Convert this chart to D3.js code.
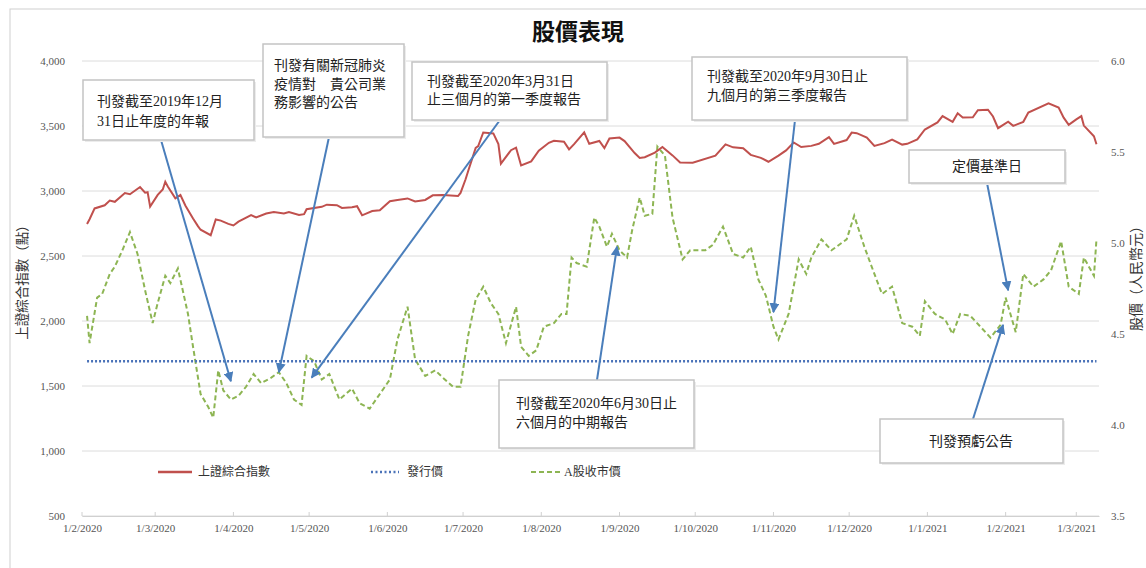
<!DOCTYPE html>
<html><head><meta charset="utf-8">
<script src="https://cdn.jsdelivr.net/npm/d3@7"></script>
<style>body{margin:0;background:#fff}</style>
</head><body>
<svg id="c" width="1146" height="568"></svg>
<script>
// ---- data ----
const shDates = ["2020-02-03","2020-02-04","2020-02-06","2020-02-10","2020-02-12","2020-02-14","2020-02-18","2020-02-20","2020-02-24","2020-02-26","2020-02-27","2020-02-28","2020-03-02","2020-03-04","2020-03-05","2020-03-06","2020-03-09","2020-03-11","2020-03-13","2020-03-16","2020-03-18","2020-03-19","2020-03-23","2020-03-25","2020-03-27","2020-03-30","2020-04-01","2020-04-03","2020-04-08","2020-04-10","2020-04-14","2020-04-17","2020-04-21","2020-04-23","2020-04-27","2020-04-29","2020-04-30","2020-05-06","2020-05-08","2020-05-12","2020-05-14","2020-05-18","2020-05-20","2020-05-22","2020-05-26","2020-05-29","2020-06-02","2020-06-05","2020-06-09","2020-06-12","2020-06-16","2020-06-19","2020-06-23","2020-06-29","2020-06-30","2020-07-02","2020-07-03","2020-07-06","2020-07-07","2020-07-09","2020-07-13","2020-07-15","2020-07-16","2020-07-20","2020-07-22","2020-07-24","2020-07-28","2020-07-31","2020-08-04","2020-08-06","2020-08-10","2020-08-12","2020-08-14","2020-08-18","2020-08-20","2020-08-24","2020-08-26","2020-08-28","2020-09-01","2020-09-03","2020-09-07","2020-09-09","2020-09-11","2020-09-15","2020-09-18","2020-09-22","2020-09-25","2020-09-30","2020-10-09","2020-10-13","2020-10-16","2020-10-20","2020-10-23","2020-10-27","2020-10-30","2020-11-03","2020-11-06","2020-11-09","2020-11-12","2020-11-16","2020-11-19","2020-11-23","2020-11-25","2020-11-30","2020-12-02","2020-12-04","2020-12-08","2020-12-11","2020-12-15","2020-12-18","2020-12-22","2020-12-24","2020-12-28","2020-12-31","2021-01-05","2021-01-07","2021-01-11","2021-01-13","2021-01-15","2021-01-19","2021-01-21","2021-01-25","2021-01-27","2021-01-29","2021-02-02","2021-02-04","2021-02-08","2021-02-10","2021-02-18","2021-02-22","2021-02-24","2021-02-26","2021-03-01","2021-03-03","2021-03-04","2021-03-08","2021-03-09"];
const shValues = [2746,2783,2866,2890,2926,2917,2984,2975,3031,2987,2991,2880,2970,3012,3071,3034,2943,2969,2887,2789,2728,2702,2660,2781,2772,2747,2735,2764,2815,2797,2827,2838,2827,2839,2815,2822,2860,2878,2895,2891,2870,2875,2883,2813,2846,2852,2921,2930,2943,2920,2931,2967,2970,2961,2985,3090,3152,3332,3345,3450,3443,3361,3210,3314,3333,3196,3228,3310,3371,3386,3379,3320,3360,3451,3363,3385,3330,3404,3411,3384,3292,3254,3260,3295,3338,3274,3219,3218,3272,3359,3336,3329,3278,3255,3225,3272,3312,3373,3338,3347,3363,3414,3362,3392,3449,3445,3411,3347,3368,3395,3357,3363,3397,3473,3528,3576,3532,3598,3566,3567,3621,3625,3573,3483,3533,3501,3532,3603,3675,3642,3564,3509,3551,3576,3503,3421,3360];

const aDates = ["2020-02-03","2020-02-04","2020-02-07","2020-02-09","2020-02-12","2020-02-14","2020-02-17","2020-02-20","2020-02-23","2020-02-26","2020-02-29","2020-03-02","2020-03-05","2020-03-07","2020-03-10","2020-03-14","2020-03-16","2020-03-19","2020-03-22","2020-03-24","2020-03-26","2020-03-28","2020-03-31","2020-04-03","2020-04-06","2020-04-09","2020-04-12","2020-04-16","2020-04-19","2020-04-22","2020-04-25","2020-04-28","2020-04-30","2020-05-03","2020-05-06","2020-05-09","2020-05-13","2020-05-18","2020-05-21","2020-05-25","2020-05-29","2020-06-02","2020-06-05","2020-06-09","2020-06-12","2020-06-16","2020-06-20","2020-06-23","2020-06-27","2020-06-30","2020-07-03","2020-07-06","2020-07-09","2020-07-12","2020-07-15","2020-07-18","2020-07-22","2020-07-24","2020-07-27","2020-07-30","2020-08-02","2020-08-06","2020-08-09","2020-08-11","2020-08-13","2020-08-15","2020-08-19","2020-08-22","2020-08-24","2020-08-27","2020-08-29","2020-09-01","2020-09-04","2020-09-06","2020-09-09","2020-09-11","2020-09-14","2020-09-16","2020-09-19","2020-09-22","2020-09-26","2020-09-29","2020-10-05","2020-10-08","2020-10-12","2020-10-16","2020-10-20","2020-10-23","2020-10-26","2020-10-29","2020-11-01","2020-11-03","2020-11-07","2020-11-11","2020-11-14","2020-11-16","2020-11-20","2020-11-24","2020-11-26","2020-11-30","2020-12-03","2020-12-07","2020-12-11","2020-12-14","2020-12-18","2020-12-22","2020-12-26","2020-12-29","2020-12-31","2021-01-04","2021-01-08","2021-01-11","2021-01-14","2021-01-18","2021-01-22","2021-01-26","2021-01-30","2021-02-01","2021-02-05","2021-02-08","2021-02-12","2021-02-16","2021-02-19","2021-02-23","2021-02-26","2021-03-02","2021-03-04","2021-03-08","2021-03-09"];
const aValues = [4.60,4.45,4.70,4.72,4.83,4.87,4.96,5.06,4.94,4.74,4.56,4.67,4.82,4.78,4.86,4.61,4.43,4.17,4.10,4.04,4.30,4.19,4.14,4.16,4.21,4.28,4.23,4.26,4.29,4.23,4.14,4.11,4.38,4.35,4.25,4.28,4.14,4.20,4.12,4.09,4.17,4.25,4.47,4.65,4.36,4.27,4.30,4.26,4.21,4.21,4.49,4.69,4.76,4.67,4.61,4.45,4.65,4.43,4.38,4.41,4.54,4.56,4.61,4.61,4.92,4.89,4.87,5.14,5.09,4.98,5.05,4.96,4.92,5.07,5.25,5.15,5.16,5.53,5.48,5.14,4.91,4.96,4.96,4.99,5.09,4.94,4.92,4.98,4.80,4.71,4.54,4.47,4.61,4.91,4.83,4.92,5.02,4.96,4.98,5.02,5.15,4.98,4.83,4.72,4.76,4.56,4.54,4.49,4.68,4.61,4.58,4.50,4.61,4.60,4.54,4.48,4.55,4.70,4.51,4.83,4.76,4.80,4.85,5.01,4.76,4.72,4.92,4.82,5.02];

const issuePrice = 4.35;
const leftTicks = [500,1000,1500,2000,2500,3000,3500,4000];
const rightTicks = [3.5,4.0,4.5,5.0,5.5,6.0];
const xTickDates = ["2020-02-01","2020-03-01","2020-04-01","2020-05-01","2020-06-01","2020-07-01","2020-08-01","2020-09-01","2020-10-01","2020-11-01","2020-12-01","2021-01-01","2021-02-01","2021-03-01"];
const title = "股價表現";
const leftTitle = "上證綜合指數（點）";
const rightTitle = "股價（人民幣元）";
const seriesNames = ["上證綜合指數","發行價","A股收市價"];
const annotationTexts = [
  ["刊發截至2019年12月","31日止年度的年報"],
  ["刊發有關新冠肺炎","疫情對　貴公司業","務影響的公告"],
  ["刊發截至2020年3月31日","止三個月的第一季度報告"],
  ["刊發截至2020年9月30日止","九個月的第三季度報告"],
  ["刊發截至2020年6月30日止","六個月的中期報告"],
  ["定價基準日"],
  ["刊發預虧公告"]
];
const annotationTargets = [
  ["2020-03-31",4.24],["2020-04-19",4.29],["2020-05-02",4.26],["2020-11-01",4.62],
  ["2020-08-31",4.98],["2021-02-02",4.74],["2021-01-31",4.55]
];

// ---- layout ----
const parse = d3.timeParse("%Y-%m-%d");
const svg = d3.select("#c");
const X0 = 82, X1 = 1099, YT = 61, YB = 516;
const x = d3.scaleTime().domain([parse("2020-02-01"), parse("2021-03-10")]).range([X0, X1]);
const yL = d3.scaleLinear().domain([500, 4000]).range([YB, YT]);
const yR = d3.scaleLinear().domain([3.5, 6.0]).range([YB, YT]);
const serif = "'Liberation Serif','Times New Roman',serif";
const cjk = "'Liberation Serif','Noto Sans CJK TC','Noto Sans CJK SC',serif";

// frame
svg.append("rect").attr("x",10).attr("y",9).attr("width",1150).attr("height",580)
  .attr("fill","none").attr("stroke","#d0d0d0").attr("stroke-width",1);

// grid
svg.append("g").selectAll("line").data(leftTicks).join("line")
  .attr("x1",X0).attr("x2",X1).attr("y1",d=>yL(d)).attr("y2",d=>yL(d))
  .attr("stroke","#dcdcdc").attr("stroke-width",1);

// left axis
const gl = svg.append("g").attr("transform",`translate(${X0-14},0)`)
  .call(d3.axisLeft(yL).tickValues(leftTicks).tickSize(0).tickFormat(d3.format(",")));
gl.select(".domain").remove();
gl.selectAll("text").attr("font-family",serif).attr("font-size",11).attr("fill","#555");

// right axis
const gr = svg.append("g").attr("transform",`translate(${X1+9},0)`)
  .call(d3.axisRight(yR).tickValues(rightTicks).tickSize(0).tickFormat(d3.format(".1f")));
gr.select(".domain").remove();
gr.selectAll("text").attr("font-family",serif).attr("font-size",11).attr("fill","#555");

// x axis
const gx = svg.append("g").attr("transform",`translate(0,${YB})`)
  .call(d3.axisBottom(x).tickValues(xTickDates.map(parse)).tickSize(0).tickPadding(8)
    .tickFormat(d=>`${d.getDate()}/${d.getMonth()+1}/${d.getFullYear()}`));
gx.select(".domain").attr("stroke","#d0d0d0");
gx.selectAll("text").attr("font-family",serif).attr("font-size",11).attr("fill","#555");
svg.append("g").selectAll("line").data(xTickDates.map(parse)).join("line")
  .attr("x1",d=>x(d)).attr("x2",d=>x(d)).attr("y1",YB).attr("y2",YB-4)
  .attr("stroke","#d0d0d0");

// titles
svg.append("text").attr("x",578).attr("y",40).attr("text-anchor","middle")
  .attr("font-family","'Noto Sans CJK TC',sans-serif").attr("font-weight","bold")
  .attr("font-size",23).attr("fill","#111").text(title);
svg.append("text").attr("transform","translate(27,279) rotate(-90)").attr("text-anchor","middle")
  .attr("font-family",cjk).attr("font-size",13.5).attr("fill","#333").text(leftTitle);
svg.append("text").attr("transform","translate(1141,275) rotate(-90)").attr("text-anchor","middle")
  .attr("font-family",cjk).attr("font-size",14).attr("fill","#333").text(rightTitle);

// series
const sh = shDates.map((d,i)=>({d:parse(d),v:shValues[i]}));
const aa = aDates.map((d,i)=>({d:parse(d),v:aValues[i]}));
svg.append("path").datum(aa)
  .attr("d",d3.line().x(p=>x(p.d)).y(p=>yR(p.v)))
  .attr("fill","none").attr("stroke","#8db553").attr("stroke-width",2)
  .attr("stroke-dasharray","5,3");
svg.append("path").datum([aa[0].d, aa[aa.length-1].d])
  .attr("d",d3.line().x(d=>x(d)).y(()=>yR(issuePrice)))
  .attr("fill","none").attr("stroke","#4a72b8").attr("stroke-width",2.5)
  .attr("stroke-dasharray","2,2");
svg.append("path").datum(sh)
  .attr("d",d3.line().x(p=>x(p.d)).y(p=>yL(p.v)))
  .attr("fill","none").attr("stroke","#c0504d").attr("stroke-width",2);

// legend
const lg = svg.append("g").attr("font-family",cjk).attr("font-size",12).attr("fill","#333");
lg.append("line").attr("x1",158).attr("x2",192).attr("y1",472).attr("y2",472)
  .attr("stroke","#c0504d").attr("stroke-width",2.5);
lg.append("text").attr("x",198).attr("y",476).text(seriesNames[0]);
lg.append("line").attr("x1",371).attr("x2",399).attr("y1",472).attr("y2",472)
  .attr("stroke","#4a72b8").attr("stroke-width",2.5).attr("stroke-dasharray","2,2.5");
lg.append("text").attr("x",407).attr("y",476).text(seriesNames[1]);
lg.append("line").attr("x1",531).attr("x2",562).attr("y1",472).attr("y2",472)
  .attr("stroke","#8db553").attr("stroke-width",2).attr("stroke-dasharray","5,3");
lg.append("text").attr("x",564).attr("y",476).text(seriesNames[2]);

// annotations
const defs = svg.append("defs");
defs.append("marker").attr("id","ah").attr("viewBox","0 0 10 10").attr("refX",9).attr("refY",5)
  .attr("markerWidth",5).attr("markerHeight",5).attr("orient","auto")
  .append("path").attr("d","M0,0 L10,5 L0,10 z").attr("fill","#4a7ebb");
const boxes = [
  {x:83,y:80,w:171,h:60,tx:97,ty:106,lh:20,ax:161,ay:140},
  {x:263,y:44,w:141,h:93,tx:274,ty:70,lh:18.5,ax:329,ay:137},
  {x:412,y:62,w:195,h:58,tx:427,ty:86,lh:18,ax:500,ay:120},
  {x:692,y:57,w:215,h:63,tx:707,ty:81,lh:19,ax:795,ay:120},
  {x:499,y:380,w:195,h:68,tx:516,ty:408,lh:18.5,ax:597,ay:380},
  {x:909,y:150,w:156,h:33,tx:987,ty:171,lh:18,ax:987,ay:183,c:true},
  {x:880,y:419,w:183,h:44,tx:971,ty:446,lh:18,ax:973,ay:419,c:true}
];
annotationTexts.forEach((lines,i)=>{
  const b = boxes[i], t = annotationTargets[i];
  svg.append("line").attr("x1",b.ax).attr("y1",b.ay)
    .attr("x2",x(parse(t[0]))).attr("y2",yR(t[1]))
    .attr("stroke","#4a7ebb").attr("stroke-width",2).attr("marker-end","url(#ah)");
});
annotationTexts.forEach((lines,i)=>{
  const b = boxes[i];
  svg.append("rect").attr("x",b.x+2).attr("y",b.y+2).attr("width",b.w).attr("height",b.h)
    .attr("fill","#ececec");
  svg.append("rect").attr("x",b.x).attr("y",b.y).attr("width",b.w).attr("height",b.h)
    .attr("fill","#fff").attr("stroke","#c4c4c4").attr("stroke-width",1.5);
  const tg = svg.append("text").attr("font-family",cjk).attr("font-size",14).attr("fill","#222")
    .attr("text-anchor",b.c?"middle":"start");
  lines.forEach((l,j)=>tg.append("tspan").attr("x",b.tx).attr("y",b.ty+j*b.lh).text(l));
});
</script>
</body></html>
